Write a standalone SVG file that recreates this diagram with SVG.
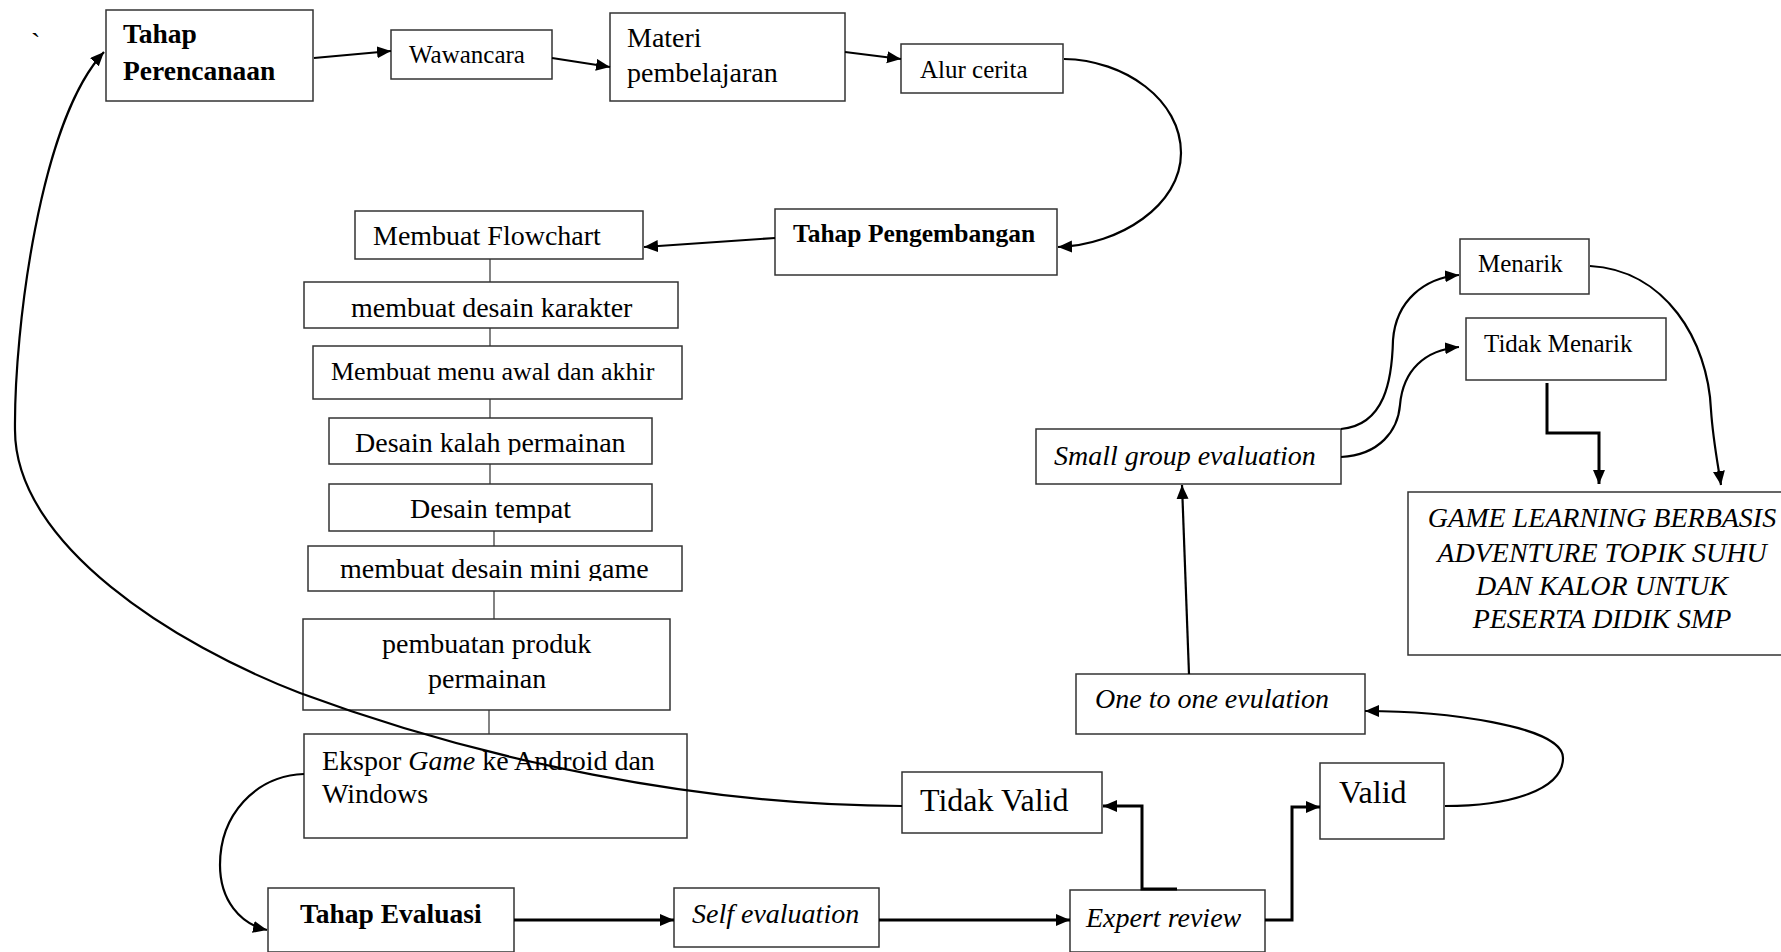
<svg xmlns="http://www.w3.org/2000/svg" width="1781" height="952" viewBox="0 0 1781 952">
<style>
  .box{fill:#fff;stroke:#333;stroke-width:1.5}
  .t{font-family:"Liberation Serif","Times New Roman",serif;fill:#000}
  .b{font-weight:bold}
  .i{font-style:italic}
  .c{fill:none;stroke:#000;stroke-width:2.2}
  .k{fill:none;stroke:#000;stroke-width:3}
  .thin{fill:none;stroke:#333;stroke-width:1.2}
</style>
<defs>
  <marker id="ah" markerUnits="userSpaceOnUse" markerWidth="16" markerHeight="14" refX="14" refY="6" orient="auto">
    <path d="M0,0 L14,6 L0,12 Z" fill="#000"/>
  </marker>
  <clipPath id="clipKalah"><rect x="329" y="418" width="323" height="37"/></clipPath>
  <clipPath id="clipTempat"><rect x="329" y="484" width="323" height="39"/></clipPath>
  <clipPath id="clipMini"><rect x="308" y="546" width="374" height="35"/></clipPath>
</defs>
<rect width="1781" height="952" fill="#fff"/>
<text class="t" x="31" y="52" font-size="28">`</text>

<g id="tahap-perencanaan">
  <rect class="box" x="106" y="10" width="207" height="91"/>
  <text class="t b" x="123" y="43" font-size="27.5">Tahap</text>
  <text class="t b" x="123" y="80" font-size="27.5">Perencanaan</text>
</g>
<g id="wawancara">
  <rect class="box" x="391" y="30" width="161" height="49"/>
  <text class="t" x="409" y="63" font-size="25">Wawancara</text>
</g>
<g id="materi">
  <rect class="box" x="610" y="13" width="235" height="88"/>
  <text class="t" x="627" y="47" font-size="28">Materi</text>
  <text class="t" x="627" y="82" font-size="28">pembelajaran</text>
</g>
<g id="alur-cerita">
  <rect class="box" x="901" y="44" width="162" height="49"/>
  <text class="t" x="920" y="78" font-size="25">Alur cerita</text>
</g>
<g id="tahap-pengembangan">
  <rect class="box" x="775" y="209" width="282" height="66"/>
  <text class="t b" x="793" y="242" font-size="25.5">Tahap Pengembangan</text>
</g>
<g id="flowchart">
  <rect class="box" x="355" y="211" width="288" height="48"/>
  <text class="t" x="373" y="245" font-size="28">Membuat Flowchart</text>
</g>
<g id="karakter">
  <rect class="box" x="304" y="282" width="374" height="46"/>
  <text class="t" x="351" y="317" font-size="28">membuat desain karakter</text>
</g>
<g id="menu">
  <rect class="box" x="313" y="346" width="369" height="53"/>
  <text class="t" x="331" y="380" font-size="26">Membuat menu awal dan akhir</text>
</g>
<g id="kalah">
  <rect class="box" x="329" y="418" width="323" height="46"/>
  <text class="t" x="355" y="452" font-size="28" clip-path="url(#clipKalah)">Desain kalah permainan</text>
</g>
<g id="tempat">
  <rect class="box" x="329" y="484" width="323" height="47"/>
  <text class="t" x="410" y="518" font-size="28" clip-path="url(#clipTempat)">Desain tempat</text>
</g>
<g id="mini-game">
  <rect class="box" x="308" y="546" width="374" height="45"/>
  <text class="t" x="340" y="578" font-size="28" clip-path="url(#clipMini)">membuat desain mini game</text>
</g>
<g id="produk">
  <rect class="box" x="303" y="619" width="367" height="91"/>
  <text class="t" x="382" y="653" font-size="28">pembuatan produk</text>
  <text class="t" x="428" y="688" font-size="28">permainan</text>
</g>
<g id="ekspor">
  <rect class="box" x="304" y="734" width="383" height="104"/>
  <text class="t" x="322" y="770" font-size="28">Ekspor <tspan class="i">Game</tspan> ke Android dan</text>
  <text class="t" x="322" y="803" font-size="28">Windows</text>
</g>
<g id="tahap-evaluasi">
  <rect class="box" x="268" y="888" width="246" height="64"/>
  <text class="t b" x="300" y="923" font-size="27.5">Tahap Evaluasi</text>
</g>
<g id="self-evaluation">
  <rect class="box" x="674" y="888" width="205" height="59"/>
  <text class="t i" x="692" y="923" font-size="28">Self evaluation</text>
</g>
<g id="expert-review">
  <rect class="box" x="1070" y="890" width="195" height="62"/>
  <text class="t i" x="1086" y="927" font-size="28">Expert review</text>
</g>
<g id="tidak-valid">
  <rect class="box" x="902" y="772" width="200" height="61"/>
  <text class="t" x="920" y="811" font-size="32">Tidak Valid</text>
</g>
<g id="valid">
  <rect class="box" x="1320" y="763" width="124" height="76"/>
  <text class="t" x="1339" y="803" font-size="32">Valid</text>
</g>
<g id="one-to-one">
  <rect class="box" x="1076" y="674" width="289" height="60"/>
  <text class="t i" x="1095" y="708" font-size="28">One to one evulation</text>
</g>
<g id="small-group">
  <rect class="box" x="1036" y="429" width="305" height="55"/>
  <text class="t i" x="1054" y="465" font-size="28">Small group evaluation</text>
</g>
<g id="menarik">
  <rect class="box" x="1460" y="239" width="129" height="55"/>
  <text class="t" x="1478" y="272" font-size="25">Menarik</text>
</g>
<g id="tidak-menarik">
  <rect class="box" x="1466" y="318" width="200" height="62"/>
  <text class="t" x="1484" y="352" font-size="25">Tidak Menarik</text>
</g>
<g id="game-learning">
  <rect class="box" x="1408" y="492" width="390" height="163"/>
  <text class="t i" x="1602" y="527" font-size="28" text-anchor="middle">GAME LEARNING BERBASIS</text>
  <text class="t i" x="1602" y="562" font-size="28" text-anchor="middle">ADVENTURE TOPIK SUHU</text>
  <text class="t i" x="1602" y="595" font-size="28" text-anchor="middle">DAN KALOR UNTUK</text>
  <text class="t i" x="1602" y="628" font-size="28" text-anchor="middle">PESERTA DIDIK SMP</text>
</g>

<g id="connectors">
  <path class="c" d="M314,58 L391,51" marker-end="url(#ah)"/>
  <path class="c" d="M552,58 L610,67" marker-end="url(#ah)"/>
  <path class="c" d="M845,52 L901,59" marker-end="url(#ah)"/>
  <path class="c" d="M1064,59 C1125,60 1181,100 1181,153 C1181,205 1120,245 1058,247" marker-end="url(#ah)"/>
  <path class="c" d="M775,238 L644,247" marker-end="url(#ah)"/>
  <path class="thin" d="M490,259 V282 M490,328 V346 M490,399 V418 M490,464 V484 M494,531 V546 M494,591 V619 M489,710 V734"/>
  <path class="c" d="M304,774 C255,776 220,815 220,865 C220,900 240,924 267,930" marker-end="url(#ah)"/>
  <path class="k" d="M514,920 L674,920" marker-end="url(#ah)"/>
  <path class="k" d="M879,920 L1070,920" marker-end="url(#ah)"/>
  <path class="k" d="M1177,889 L1142,889 L1142,806 L1103,806" marker-end="url(#ah)"/>
  <path class="k" d="M1265,920 L1292,920 L1292,807 L1320,807" marker-end="url(#ah)"/>
  <path class="c" d="M1445,806 C1510,806 1563,790 1563,758 C1563,725 1440,711 1365,711" marker-end="url(#ah)"/>
  <path class="c" d="M1189,674 L1182,485" marker-end="url(#ah)"/>
  <path class="c" d="M1341,429 C1385,425 1392,380 1393,340 C1396,300 1425,278 1459,275" marker-end="url(#ah)"/>
  <path class="c" d="M1341,457 C1380,455 1398,430 1400,405 C1403,370 1425,350 1459,347" marker-end="url(#ah)"/>
  <path class="c" d="M1590,266 C1665,270 1708,340 1711,410 C1713,440 1718,465 1721,485" marker-end="url(#ah)"/>
  <path class="k" d="M1547,383 L1547,433 L1599,433 L1599,484" marker-end="url(#ah)"/>
  <path class="c" d="M902,806 C700,806 480,760 300,693 C175,645 15,545 15,430 C14,330 40,120 104,52" marker-end="url(#ah)"/>
</g>
</svg>
